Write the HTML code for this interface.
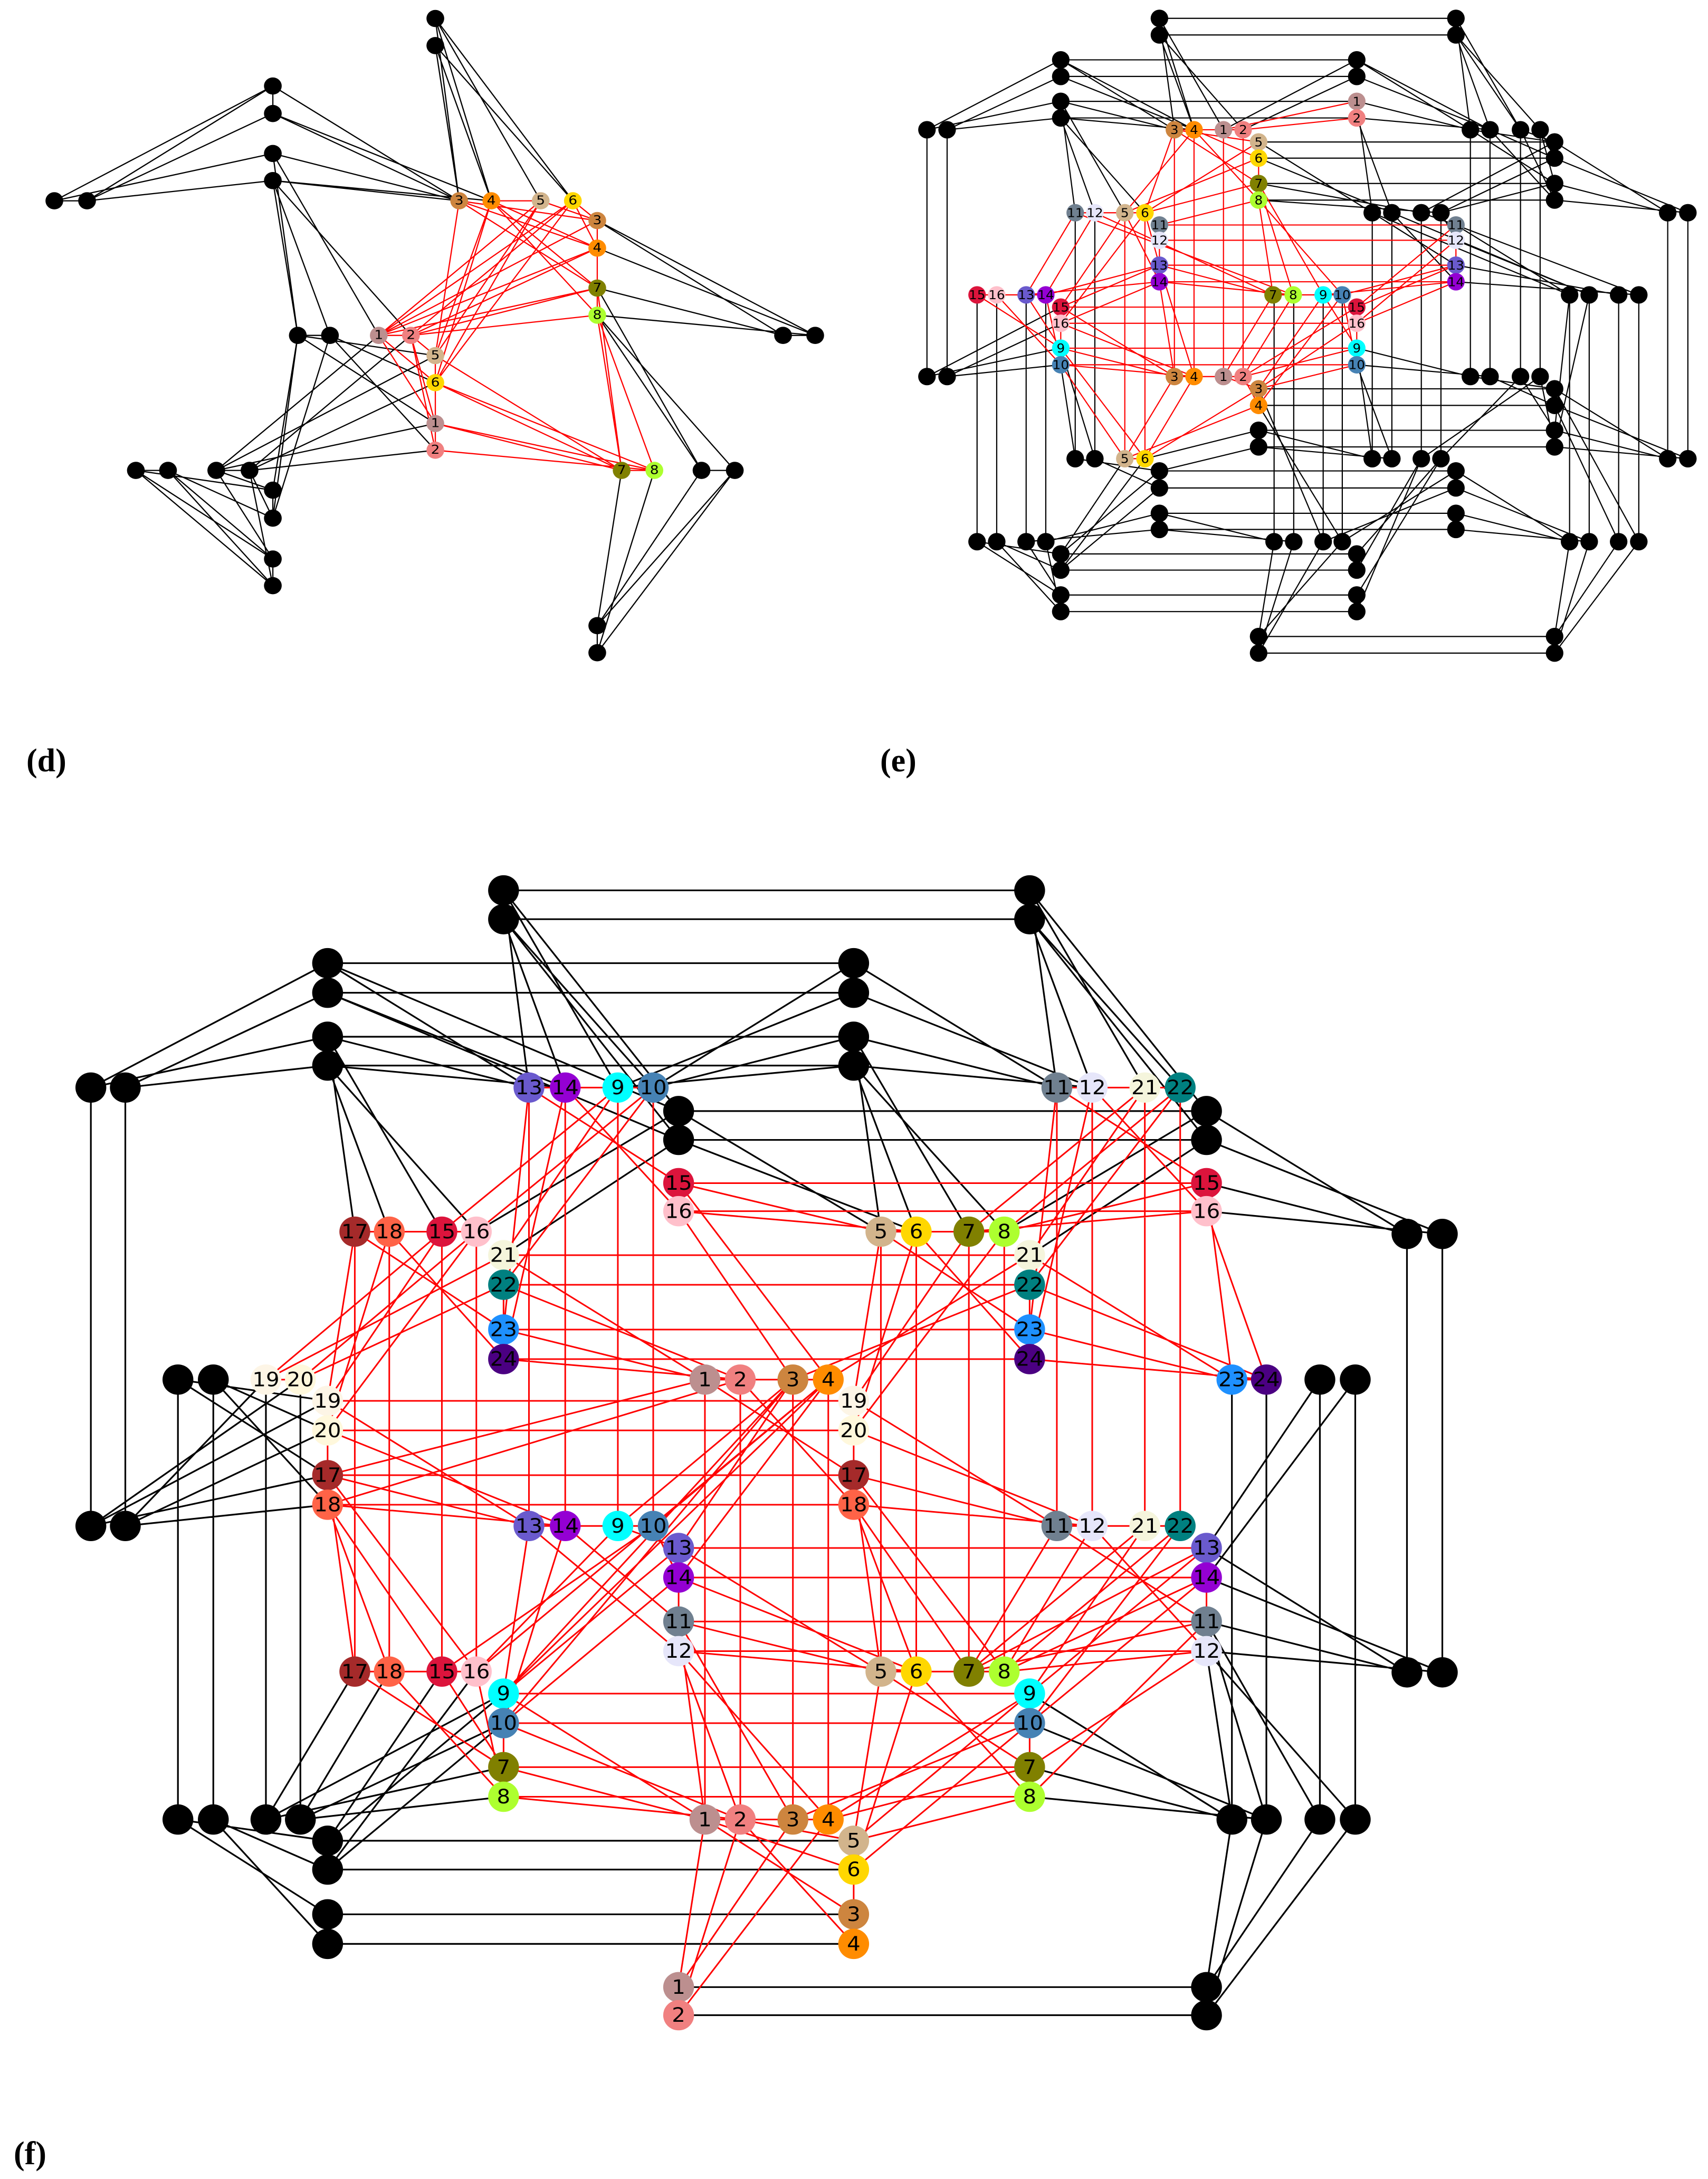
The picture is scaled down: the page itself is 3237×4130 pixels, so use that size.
<!DOCTYPE html>
<html><head><meta charset="utf-8"><style>
html,body{margin:0;padding:0;background:#fff}
svg{display:block}
.k{fill:#000}
.bl{stroke:#000;fill:none;vector-effect:non-scaling-stroke}
.rd{stroke:#f00;fill:none;vector-effect:non-scaling-stroke}
text{font-family:"DejaVu Sans Condensed","DejaVu Sans","Liberation Sans",sans-serif;font-stretch:condensed;text-anchor:middle;dominant-baseline:central;fill:#000}
.c1{fill:#bc8f8f}.c2{fill:#f08080}.c3{fill:#cd853f}.c4{fill:#ff8c00}.c5{fill:#d2b48c}.c6{fill:#ffd700}
.c7{fill:#808000}.c8{fill:#adff2f}.c9{fill:#00ffff}.c10{fill:#4682b4}.c11{fill:#708090}.c12{fill:#e6e6fa}
.c13{fill:#6a5acd}.c14{fill:#9400d3}.c15{fill:#dc143c}.c16{fill:#ffc0cb}.c17{fill:#a52a2a}.c18{fill:#ff6347}
.c19{fill:#fdf5e6}.c20{fill:#fff8dc}.c21{fill:#f5f5dc}.c22{fill:#008080}.c23{fill:#1e90ff}.c24{fill:#4b0082}
.lab{font-family:"Liberation Serif",serif;font-stretch:normal;font-weight:bold;font-size:62px;text-anchor:start;dominant-baseline:auto}
</style></head><body>
<svg width="3237" height="4130" viewBox="0 0 3237 4130" xmlns="http://www.w3.org/2000/svg">
<rect width="3237" height="4130" fill="#fff"/>

<!-- PANEL D -->
<g transform="translate(0,0) scale(1.051,0.815)">
<path class="bl" stroke-width="2.3" d="M492 200V264M98 467H157M1412 780H1470M1265 1094H1325M1077 1455V1518M245 1094H303M390 1094H450M492 1300V1362M492 1140V1205M537 780H595
M785 43L828 467M785 106L886 467M785 43L886 467M785 106L828 467M785 43L975 467M785 106L1033 467M785 43L1033 467
M492 200L98 467M492 264L157 467M492 200L157 467M492 200L828 467M492 264L886 467M492 264L828 467
M492 357L98 467M492 420L157 467M492 357L828 467M492 420L886 467M492 420L828 467M492 357L537 780M492 420L595 780M492 357L683 780M492 420L741 780M492 420L537 780
M537 780L785 827M595 780L785 890M537 780L785 985M595 780L785 1047M537 780L492 1140M595 780L492 1205M537 780L492 1205
M390 1094L683 780M450 1094L741 780M390 1094L785 827M450 1094L785 890M390 1094L785 985M450 1094L785 1047M390 1094L492 1140M450 1094L492 1205
M245 1094L492 1140M303 1094L492 1205M245 1094L492 1362M303 1094L492 1300M245 1094L492 1300M303 1094L492 1362M390 1094L492 1300M450 1094L492 1362
M1077 513L1412 780M1077 577L1470 780M1077 513L1470 780M1077 670L1412 780M1077 733L1470 780M1077 670L1265 1094M1077 733L1325 1094M1077 733L1265 1094
M1077 1455L1121 1094M1077 1518L1180 1094M1077 1455L1265 1094M1077 1518L1325 1094M1077 1455L1325 1094"/>
<path class="rd" stroke-width="2.3" d="M886 467H975M1033 467L1077 513M1077 513V733M741 780L785 827M785 827V1047M1121 1094H1180M683 780H741
M828 467L1077 513M886 467L1077 577M828 467L1077 577M828 467L1077 670M886 467L1077 733M886 467L1077 670M828 467L785 827M886 467L785 890M886 467L785 827
M975 467L1077 513M1033 467L1077 577M975 467L785 827M1033 467L785 890M975 467L785 890M975 467L683 780M1033 467L741 780M1033 467L683 780
M1077 513L683 780M1077 577L741 780M1077 577L683 780M1077 670L683 780M1077 733L741 780M1077 670L741 780M1077 670L1121 1094M1077 733L1180 1094M1077 733L1121 1094
M683 780L785 985M741 780L785 1047M683 780L785 890M741 780L785 985M785 827L1121 1094M785 890L1180 1094M785 890L1121 1094M785 985L1121 1094M785 1047L1180 1094M785 985L1180 1094"/>
<g class="k">
<ellipse cx="785" cy="43" rx="16" ry="20"/><ellipse cx="785" cy="106" rx="16" ry="20"/><ellipse cx="492" cy="200" rx="16" ry="20"/><ellipse cx="492" cy="264" rx="16" ry="20"/><ellipse cx="492" cy="357" rx="16" ry="20"/><ellipse cx="492" cy="420" rx="16" ry="20"/><ellipse cx="98" cy="467" rx="16" ry="20"/><ellipse cx="157" cy="467" rx="16" ry="20"/><ellipse cx="537" cy="780" rx="16" ry="20"/><ellipse cx="595" cy="780" rx="16" ry="20"/><ellipse cx="1412" cy="780" rx="16" ry="20"/><ellipse cx="1470" cy="780" rx="16" ry="20"/><ellipse cx="245" cy="1094" rx="16" ry="20"/><ellipse cx="303" cy="1094" rx="16" ry="20"/><ellipse cx="390" cy="1094" rx="16" ry="20"/><ellipse cx="450" cy="1094" rx="16" ry="20"/><ellipse cx="492" cy="1140" rx="16" ry="20"/><ellipse cx="492" cy="1205" rx="16" ry="20"/><ellipse cx="492" cy="1300" rx="16" ry="20"/><ellipse cx="492" cy="1362" rx="16" ry="20"/><ellipse cx="1265" cy="1094" rx="16" ry="20"/><ellipse cx="1325" cy="1094" rx="16" ry="20"/><ellipse cx="1077" cy="1455" rx="16" ry="20"/><ellipse cx="1077" cy="1518" rx="16" ry="20"/>
</g>
<g font-size="28">
<ellipse class="c3" cx="828" cy="467" rx="16" ry="20"/><text x="828" y="467">3</text>
<ellipse class="c4" cx="886" cy="467" rx="16" ry="20"/><text x="886" y="467">4</text>
<ellipse class="c5" cx="975" cy="467" rx="16" ry="20"/><text x="975" y="467">5</text>
<ellipse class="c6" cx="1033" cy="467" rx="16" ry="20"/><text x="1033" y="467">6</text>
<ellipse class="c3" cx="1077" cy="513" rx="16" ry="20"/><text x="1077" y="513">3</text>
<ellipse class="c4" cx="1077" cy="577" rx="16" ry="20"/><text x="1077" y="577">4</text>
<ellipse class="c7" cx="1077" cy="670" rx="16" ry="20"/><text x="1077" y="670">7</text>
<ellipse class="c8" cx="1077" cy="733" rx="16" ry="20"/><text x="1077" y="733">8</text>
<ellipse class="c1" cx="683" cy="780" rx="16" ry="20"/><text x="683" y="780">1</text>
<ellipse class="c2" cx="741" cy="780" rx="16" ry="20"/><text x="741" y="780">2</text>
<ellipse class="c5" cx="785" cy="827" rx="16" ry="20"/><text x="785" y="827">5</text>
<ellipse class="c6" cx="785" cy="890" rx="16" ry="20"/><text x="785" y="890">6</text>
<ellipse class="c1" cx="785" cy="985" rx="16" ry="20"/><text x="785" y="985">1</text>
<ellipse class="c2" cx="785" cy="1047" rx="16" ry="20"/><text x="785" y="1047">2</text>
<ellipse class="c7" cx="1121" cy="1094" rx="16" ry="20"/><text x="1121" y="1094">7</text>
<ellipse class="c8" cx="1180" cy="1094" rx="16" ry="20"/><text x="1180" y="1094">8</text>
</g>
</g>

<!-- PANEL E -->
<g transform="translate(1700,0) scale(0.979,0.828)">
<path class="bl" stroke-width="2.2" d="M508 42H1082M508 80H1082M317 137H890M317 175H890M317 232H890M317 270H890M700 325H1273M700 362H1273M700 420H1273M700 458H1273M58 297V862M97 297V862M1492 487V1050M1531 487V1050M155 675V1240M193 675V1240M250 675V1240M288 675V1240M345 487V1050M383 487V1050M920 487V1050M958 487V1050M1015 487V1050M1053 487V1050M1110 297V862M1148 297V862M1207 297V862M1245 297V862M1302 675V1240M1340 675V1240M1397 675V1240M1436 675V1240M730 675V1240M768 675V1240M825 675V1240M862 675V1240M700 890H1273M700 928H1273M700 985H1273M700 1023H1273M508 1078H1082M508 1117H1082M508 1175H1082M508 1212H1082M317 1268H890M317 1305H890M317 1362H890M317 1400H890M700 1457H1273M700 1495H1273
M508 42L537 297M508 80L575 297M508 42L632 297M508 80L670 297M508 42L575 297
M1082 42L1110 297M1082 80L1148 297M1082 42L1207 297M1082 80L1245 297M1082 80L1207 297
M317 137L58 297M317 175L97 297M317 137L537 297M317 175L575 297M317 137L575 297
M890 137L632 297M890 175L670 297M890 137L1110 297M890 175L1148 297M890 137L1148 297
M317 232L58 297M317 270L97 297M317 232L345 487M317 270L383 487M317 232L441 487M317 270L480 487M317 232L537 297M317 270L575 297
M890 232L920 487M890 270L958 487M890 232L1110 297M890 270L1148 297
M1110 297L1273 325M1148 297L1273 362M1110 297L1273 420M1148 297L1273 458M1207 297L1273 325M1245 297L1273 362M1207 297L1273 458M1245 297L1273 420
M700 325L920 487M700 362L958 487M700 420L1015 487M700 458L1053 487
M1273 420L1492 487M1273 458L1531 487M1273 325L1492 487M1273 362L1531 487
M1015 487L1082 515M1053 487L1082 550M1015 487L1273 325M1053 487L1273 362M1053 487L1273 420
M920 487L1082 607M958 487L1082 645M920 487L1302 675M958 487L1340 675M1082 515L1302 675M1082 550L1340 675M1082 607L1397 675M1082 645L1436 675M1082 515L1436 675
M58 862L317 703M97 862L317 740M58 862L317 797M97 862L317 835
M1492 1050L1273 890M1531 1050L1273 928M1492 1050L1273 985M1531 1050L1273 1023
M1110 862L890 797M1148 862L890 835M1110 862L1273 890M1148 862L1273 928M1207 862L1273 985M1245 862L1273 1023M1207 862L1053 1050M1245 862L1015 1050
M345 1050L508 1078M383 1050L508 1117M345 1050L317 835M383 1050L317 797
M700 985L920 1050M700 1023L958 1050M700 985L480 1050M700 1023L508 1078M700 928L862 1240M700 890L825 1240
M508 1175L288 1240M508 1212L250 1240M508 1175L730 1240M508 1212L768 1240
M1082 1078L862 1240M1082 1117L825 1240M1082 1078L1302 1240M1082 1117L1340 1240M1082 1175L1302 1240M1082 1212L1340 1240
M155 1240L317 1362M193 1240L317 1400M155 1240L317 1268M193 1240L317 1305M250 1240L317 1362M288 1240L317 1400
M1302 1240L1273 1457M1340 1240L1273 1495M1397 1240L1273 1457M1436 1240L1273 1495
M700 1457L862 1240M700 1495L825 1240M700 1457L730 1240M700 1495L768 1240
M890 1268L1053 1050M890 1305L1015 1050M890 1362L1053 1050M890 1400L1015 1050
M317 1268L441 1050M317 1305L480 1050M317 1268L508 1078M317 1305L508 1117
M890 797L920 1050M890 835L958 1050M1273 890L1436 1240M1273 928L1397 1240M1273 985L1302 675M1273 1023L1340 675"/>
<path class="rd" stroke-width="2.2" d="M508 515H1082M508 550H1082M508 607H1082M508 645H1082M317 703H890M317 740H890M317 797H890M317 835H890M537 297V862M575 297V862M632 297V862M670 297V862M441 487V1050M480 487V1050
M537 297H670M700 325V458M345 487H480M508 515V645M1082 515V645M155 675H288M317 703V835M890 703V835M728 675H862M890 232V270M537 862H670M700 890V928M441 1050H480
M537 297L700 325M575 297L700 362M537 297L700 420M575 297L700 458M632 297L890 232M670 297L890 270M575 297L441 487M537 297L480 487
M700 325L480 487M700 362L441 487M700 420L480 487M700 458L508 515M700 458L862 675M700 420L825 675M700 420L767 675M700 458L728 675
M441 487L317 703M480 487L317 740M383 487L288 675M345 487L250 675M480 487L508 607M441 487L508 645M383 487L728 675M345 487L767 675
M508 607L317 703M508 645L317 740M508 607L728 675M508 645L767 675M508 645L537 862M508 607L575 862
M1082 515L890 703M1082 550L890 740M1082 607L862 675M1082 645L825 675M1082 607L890 703M1082 645L890 740
M155 675L317 797M193 675L317 835M250 675L317 797M288 675L317 835M288 675L508 607M250 675L508 645
M317 703L537 862M317 740L575 862M317 797L537 862M317 835L575 862M317 835L441 1050M317 797L480 1050
M728 675L632 862M767 675L670 862M825 675L890 797M862 675L890 835M825 675L700 890M862 675L700 928
M890 703L670 862M890 740L700 890M890 797L670 862M890 835L700 890M632 862L700 890M670 862L700 928
M700 890L480 1050M700 928L441 1050M575 862L480 1050M537 862L441 1050"/>
<g class="k">
<ellipse cx="508" cy="42" rx="17" ry="20"/><ellipse cx="508" cy="80" rx="17" ry="20"/><ellipse cx="1082" cy="42" rx="17" ry="20"/><ellipse cx="1082" cy="80" rx="17" ry="20"/>
<ellipse cx="317" cy="137" rx="17" ry="20"/><ellipse cx="317" cy="175" rx="17" ry="20"/><ellipse cx="890" cy="137" rx="17" ry="20"/><ellipse cx="890" cy="175" rx="17" ry="20"/>
<ellipse cx="317" cy="232" rx="17" ry="20"/><ellipse cx="317" cy="270" rx="17" ry="20"/>
<ellipse cx="58" cy="297" rx="17" ry="20"/><ellipse cx="97" cy="297" rx="17" ry="20"/><ellipse cx="58" cy="862" rx="17" ry="20"/><ellipse cx="97" cy="862" rx="17" ry="20"/>
<ellipse cx="1110" cy="297" rx="17" ry="20"/><ellipse cx="1148" cy="297" rx="17" ry="20"/><ellipse cx="1207" cy="297" rx="17" ry="20"/><ellipse cx="1245" cy="297" rx="17" ry="20"/>
<ellipse cx="1273" cy="325" rx="17" ry="20"/><ellipse cx="1273" cy="362" rx="17" ry="20"/><ellipse cx="1273" cy="420" rx="17" ry="20"/><ellipse cx="1273" cy="458" rx="17" ry="20"/>
<ellipse cx="920" cy="487" rx="17" ry="20"/><ellipse cx="958" cy="487" rx="17" ry="20"/><ellipse cx="1015" cy="487" rx="17" ry="20"/><ellipse cx="1053" cy="487" rx="17" ry="20"/>
<ellipse cx="1492" cy="487" rx="17" ry="20"/><ellipse cx="1531" cy="487" rx="17" ry="20"/><ellipse cx="1492" cy="1050" rx="17" ry="20"/><ellipse cx="1531" cy="1050" rx="17" ry="20"/>
<ellipse cx="1302" cy="675" rx="17" ry="20"/><ellipse cx="1340" cy="675" rx="17" ry="20"/><ellipse cx="1397" cy="675" rx="17" ry="20"/><ellipse cx="1436" cy="675" rx="17" ry="20"/>
<ellipse cx="1110" cy="862" rx="17" ry="20"/><ellipse cx="1148" cy="862" rx="17" ry="20"/><ellipse cx="1207" cy="862" rx="17" ry="20"/><ellipse cx="1245" cy="862" rx="17" ry="20"/>
<ellipse cx="1273" cy="890" rx="17" ry="20"/><ellipse cx="1273" cy="928" rx="17" ry="20"/><ellipse cx="1273" cy="985" rx="17" ry="20"/><ellipse cx="1273" cy="1023" rx="17" ry="20"/>
<ellipse cx="700" cy="985" rx="17" ry="20"/><ellipse cx="700" cy="1023" rx="17" ry="20"/>
<ellipse cx="345" cy="1050" rx="17" ry="20"/><ellipse cx="383" cy="1050" rx="17" ry="20"/>
<ellipse cx="920" cy="1050" rx="17" ry="20"/><ellipse cx="958" cy="1050" rx="17" ry="20"/><ellipse cx="1015" cy="1050" rx="17" ry="20"/><ellipse cx="1053" cy="1050" rx="17" ry="20"/>
<ellipse cx="508" cy="1078" rx="17" ry="20"/><ellipse cx="508" cy="1117" rx="17" ry="20"/><ellipse cx="508" cy="1175" rx="17" ry="20"/><ellipse cx="508" cy="1212" rx="17" ry="20"/>
<ellipse cx="1082" cy="1078" rx="17" ry="20"/><ellipse cx="1082" cy="1117" rx="17" ry="20"/><ellipse cx="1082" cy="1175" rx="17" ry="20"/><ellipse cx="1082" cy="1212" rx="17" ry="20"/>
<ellipse cx="155" cy="1240" rx="17" ry="20"/><ellipse cx="193" cy="1240" rx="17" ry="20"/><ellipse cx="250" cy="1240" rx="17" ry="20"/><ellipse cx="288" cy="1240" rx="17" ry="20"/>
<ellipse cx="730" cy="1240" rx="17" ry="20"/><ellipse cx="768" cy="1240" rx="17" ry="20"/><ellipse cx="825" cy="1240" rx="17" ry="20"/><ellipse cx="862" cy="1240" rx="17" ry="20"/>
<ellipse cx="1302" cy="1240" rx="17" ry="20"/><ellipse cx="1340" cy="1240" rx="17" ry="20"/><ellipse cx="1397" cy="1240" rx="17" ry="20"/><ellipse cx="1436" cy="1240" rx="17" ry="20"/>
<ellipse cx="317" cy="1268" rx="17" ry="20"/><ellipse cx="317" cy="1305" rx="17" ry="20"/><ellipse cx="317" cy="1362" rx="17" ry="20"/><ellipse cx="317" cy="1400" rx="17" ry="20"/>
<ellipse cx="890" cy="1268" rx="17" ry="20"/><ellipse cx="890" cy="1305" rx="17" ry="20"/><ellipse cx="890" cy="1362" rx="17" ry="20"/><ellipse cx="890" cy="1400" rx="17" ry="20"/>
<ellipse cx="700" cy="1457" rx="17" ry="20"/><ellipse cx="700" cy="1495" rx="17" ry="20"/><ellipse cx="1273" cy="1457" rx="17" ry="20"/><ellipse cx="1273" cy="1495" rx="17" ry="20"/>
</g>
<g font-size="28">
<ellipse class="c3" cx="537" cy="297" rx="17" ry="20"/><text x="537" y="297">3</text>
<ellipse class="c4" cx="575" cy="297" rx="17" ry="20"/><text x="575" y="297">4</text>
<ellipse class="c1" cx="632" cy="297" rx="17" ry="20"/><text x="632" y="297">1</text>
<ellipse class="c2" cx="670" cy="297" rx="17" ry="20"/><text x="670" y="297">2</text>
<ellipse class="c1" cx="890" cy="232" rx="17" ry="20"/><text x="890" y="232">1</text>
<ellipse class="c2" cx="890" cy="270" rx="17" ry="20"/><text x="890" y="270">2</text>
<ellipse class="c5" cx="700" cy="325" rx="17" ry="20"/><text x="700" y="325">5</text>
<ellipse class="c6" cx="700" cy="362" rx="17" ry="20"/><text x="700" y="362">6</text>
<ellipse class="c7" cx="700" cy="420" rx="17" ry="20"/><text x="700" y="420">7</text>
<ellipse class="c8" cx="700" cy="458" rx="17" ry="20"/><text x="700" y="458">8</text>
<ellipse class="c11" cx="345" cy="487" rx="17" ry="20"/><text x="345" y="487">11</text>
<ellipse class="c12" cx="383" cy="487" rx="17" ry="20"/><text x="383" y="487">12</text>
<ellipse class="c5" cx="441" cy="487" rx="17" ry="20"/><text x="441" y="487">5</text>
<ellipse class="c6" cx="480" cy="487" rx="17" ry="20"/><text x="480" y="487">6</text>
<ellipse class="c11" cx="508" cy="515" rx="17" ry="20"/><text x="508" y="515">11</text>
<ellipse class="c12" cx="508" cy="550" rx="17" ry="20"/><text x="508" y="550">12</text>
<ellipse class="c13" cx="508" cy="607" rx="17" ry="20"/><text x="508" y="607">13</text>
<ellipse class="c14" cx="508" cy="645" rx="17" ry="20"/><text x="508" y="645">14</text>
<ellipse class="c11" cx="1082" cy="515" rx="17" ry="20"/><text x="1082" y="515">11</text>
<ellipse class="c12" cx="1082" cy="550" rx="17" ry="20"/><text x="1082" y="550">12</text>
<ellipse class="c13" cx="1082" cy="607" rx="17" ry="20"/><text x="1082" y="607">13</text>
<ellipse class="c14" cx="1082" cy="645" rx="17" ry="20"/><text x="1082" y="645">14</text>
<ellipse class="c15" cx="155" cy="675" rx="17" ry="20"/><text x="155" y="675">15</text>
<ellipse class="c16" cx="193" cy="675" rx="17" ry="20"/><text x="193" y="675">16</text>
<ellipse class="c13" cx="250" cy="675" rx="17" ry="20"/><text x="250" y="675">13</text>
<ellipse class="c14" cx="288" cy="675" rx="17" ry="20"/><text x="288" y="675">14</text>
<ellipse class="c15" cx="317" cy="703" rx="17" ry="20"/><text x="317" y="703">15</text>
<ellipse class="c16" cx="317" cy="740" rx="17" ry="20"/><text x="317" y="740">16</text>
<ellipse class="c7" cx="728" cy="675" rx="17" ry="20"/><text x="728" y="675">7</text>
<ellipse class="c8" cx="767" cy="675" rx="17" ry="20"/><text x="767" y="675">8</text>
<ellipse class="c9" cx="825" cy="675" rx="17" ry="20"/><text x="825" y="675">9</text>
<ellipse class="c10" cx="862" cy="675" rx="17" ry="20"/><text x="862" y="675">10</text>
<ellipse class="c15" cx="890" cy="703" rx="17" ry="20"/><text x="890" y="703">15</text>
<ellipse class="c16" cx="890" cy="740" rx="17" ry="20"/><text x="890" y="740">16</text>
<ellipse class="c9" cx="317" cy="797" rx="17" ry="20"/><text x="317" y="797">9</text>
<ellipse class="c10" cx="317" cy="835" rx="17" ry="20"/><text x="317" y="835">10</text>
<ellipse class="c9" cx="890" cy="797" rx="17" ry="20"/><text x="890" y="797">9</text>
<ellipse class="c10" cx="890" cy="835" rx="17" ry="20"/><text x="890" y="835">10</text>
<ellipse class="c3" cx="537" cy="862" rx="17" ry="20"/><text x="537" y="862">3</text>
<ellipse class="c4" cx="575" cy="862" rx="17" ry="20"/><text x="575" y="862">4</text>
<ellipse class="c1" cx="632" cy="862" rx="17" ry="20"/><text x="632" y="862">1</text>
<ellipse class="c2" cx="670" cy="862" rx="17" ry="20"/><text x="670" y="862">2</text>
<ellipse class="c3" cx="700" cy="890" rx="17" ry="20"/><text x="700" y="890">3</text>
<ellipse class="c4" cx="700" cy="928" rx="17" ry="20"/><text x="700" y="928">4</text>
<ellipse class="c5" cx="441" cy="1050" rx="17" ry="20"/><text x="441" y="1050">5</text>
<ellipse class="c6" cx="480" cy="1050" rx="17" ry="20"/><text x="480" y="1050">6</text>
</g>
</g>

<!-- PANEL F -->
<g transform="translate(100,1620) scale(1.719,1.4376)">
<path class="bl" stroke-width="3.2" d="M497 47H1077M497 85H1077M303 143H883M303 182H883M303 240H883M303 278H883M690 338H1272M690 376H1272M42 307V885M80 307V885M1493 500V1078M1532 500V1078M138 692V1272M177 692V1272M235 692V1272M273 692V1272M1300 692V1272M1338 692V1272M1397 692V1272M1436 692V1272M303 1300H883M303 1338H883M303 1397H883M303 1436H883M690 1493H1272M690 1530H1272
M497 47L525 307M497 85L565 307M497 47L623 307M497 85L662 307M497 47L690 338M497 85L690 376
M1077 47L1107 307M1077 85L1146 307M1077 47L1204 307M1077 85L1243 307M1077 47L1272 338M1077 85L1272 376
M303 143L42 307M303 182L80 307M303 143L525 307M303 182L565 307M303 143L690 338M303 182L690 376
M883 143L662 307M883 182L623 307M883 143L1107 307M883 182L1146 307
M303 240L42 307M303 278L80 307M303 240L333 497M303 278L371 497M303 240L429 497M303 278L467 497M303 240L525 307M303 278L565 307
M883 240L913 497M883 278L952 497M883 240L1010 497M883 278L1049 497M883 240L662 307M883 278L623 307M883 240L1107 307M883 278L1146 307
M690 338L467 497M690 376L497 528M690 338L913 497M690 376L952 497
M1272 338L1049 497M1272 376L1077 528M1272 338L1493 500M1272 376L1532 500M1272 433L1493 500M1272 470L1532 500
M42 885L303 720M80 885L303 759M42 885L303 818M80 885L303 857M42 885L273 692M80 885L235 692
M138 692L303 818M177 692L303 857M138 692L303 720M177 692L303 759
M1493 1078L1272 914M1532 1078L1272 953M1493 1078L1272 1011M1532 1078L1272 1050M1397 692L1272 914M1436 692L1272 953
M138 1272L303 1300M177 1272L303 1338M138 1272L303 1397M177 1272L303 1436
M235 1272L497 1203M273 1272L497 1242M235 1272L497 1106M273 1272L497 1145M235 1272L333 1077M273 1272L371 1077
M303 1300L429 1077M303 1338L467 1077M303 1300L497 1106M303 1338L497 1145
M1300 1272L1077 1203M1338 1272L1077 1242M1300 1272L1077 1106M1338 1272L1077 1145M1300 1272L1272 1050M1338 1272L1272 1011M1300 1272L1272 1493M1338 1272L1272 1530
M1397 1272L1272 1011M1436 1272L1272 1050M1397 1272L1272 1493M1436 1272L1272 1530"/>
<path class="rd" stroke-width="3" d="M525 307V885M565 307V885M623 307V885M662 307V885M1107 307V885M1146 307V885M1204 307V885M1243 307V885M333 497V1077M371 497V1077M429 497V1077M467 497V1077M913 497V1077M952 497V1077M1010 497V1077M1049 497V1077M719 692V1272M758 692V1272M816 692V1272M855 692V1272
M690 433H1272M690 470H1272M497 528H1077M497 567H1077M497 626H1077M497 665H1077M303 720H883M303 759H883M303 818H883M303 857H883M690 914H1272M690 953H1272M690 1011H1272M690 1050H1272M497 1106H1077M497 1145H1077M497 1203H1077M497 1242H1077
M525 307H662M1107 307H1243M333 497H467M913 497H1049M719 692H855M235 692H273M1300 692H1338M525 885H662M1107 885H1243M333 1077H467M913 1077H1049M719 1272H855
M690 433V470M1272 433V470M497 528V665M1077 528V665M303 720V857M883 720V857M690 914V1050M1272 914V1050M497 1106V1242M1077 1106V1242M883 1300V1436M690 1493V1530
M525 307L690 433M565 307L690 470M623 307L497 528M662 307L497 567M623 307L429 497M662 307L467 497M525 307L497 626M565 307L497 665
M1107 307L1272 433M1146 307L1272 470M1204 307L1077 528M1243 307L1077 567M1204 307L1010 497M1243 307L1049 497M1107 307L1077 626M1146 307L1077 665
M690 433L913 497M690 470L952 497M690 470L816 692M690 433L855 692M1272 433L1300 692M1272 470L1338 692M1272 470L1010 497M1272 433L1049 497
M333 497L303 720M371 497L303 759M429 497L303 720M467 497L303 759M333 497L497 626M371 497L497 665M429 497L235 692M467 497L273 692
M497 528L235 692M497 567L273 692M497 626L719 692M497 665L758 692M497 528L719 692M497 567L758 692
M913 497L883 720M952 497L883 759M1010 497L883 720M1049 497L883 759M913 497L1077 626M952 497L1077 665
M1077 528L855 692M1077 567L816 692M1077 626L1300 692M1077 665L1338 692M1077 528L1300 692M1077 567L1338 692
M719 692L883 818M758 692L883 857M816 692L690 914M855 692L690 953M816 692L623 885M855 692L662 885
M303 720L525 885M303 759L565 885M303 818L525 885M303 857L565 885M303 818L333 1077M303 857L371 1077M303 857L429 1077M303 818L467 1077
M883 720L1107 885M883 759L1146 885M883 818L1107 885M883 857L1146 885M883 818L913 1077M883 857L952 1077M883 857L1010 1077M883 818L1049 1077
M525 885L497 1106M565 885L497 1145M565 885L690 1011M525 885L690 1050M623 885L690 914M662 885L690 953M623 885L467 1077M662 885L429 1077
M690 914L497 1106M690 953L497 1145M690 914L913 1077M690 953L952 1077M690 1011L913 1077M690 1050L952 1077M690 1011L719 1272M690 1050L758 1272M690 1050L855 1272M690 1011L816 1272
M1107 885L1272 1011M1146 885L1272 1050M1204 885L1077 1106M1243 885L1077 1145M1204 885L1010 1077M1243 885L1049 1077
M1272 914L1077 1106M1272 953L1077 1145M1272 914L1010 1077M1272 953L1049 1077M1272 1011L1010 1077M1272 1050L1049 1077M1272 1050L1077 1203M1272 1011L1077 1242
M333 1077L497 1203M371 1077L497 1242M429 1077L497 1203M467 1077L497 1242M497 1106L719 1272M497 1145L758 1272M497 1203L719 1272M497 1242L758 1272
M497 1106L855 692M497 1145L816 692M467 1077L855 692M497 1106L816 692
M913 1077L883 1300M952 1077L883 1338M913 1077L1077 1203M952 1077L1077 1242
M1077 1106L855 1272M1077 1145L816 1272M1077 1203L855 1272M1077 1242L883 1300M1077 1106L883 1300M1077 1145L883 1338
M719 1272L883 1397M758 1272L883 1436M816 1272L690 1493M855 1272L690 1530M690 1493L719 1272M690 1530L758 1272M758 1272L883 1300M719 1272L883 1338
M303 818L719 692M303 857L758 692M1049 1077L1146 885M1010 1077L1107 885"/>
<g class="k">
<ellipse cx="497" cy="47" rx="17" ry="20"/><ellipse cx="497" cy="85" rx="17" ry="20"/><ellipse cx="1077" cy="47" rx="17" ry="20"/><ellipse cx="1077" cy="85" rx="17" ry="20"/>
<ellipse cx="303" cy="143" rx="17" ry="20"/><ellipse cx="303" cy="182" rx="17" ry="20"/><ellipse cx="883" cy="143" rx="17" ry="20"/><ellipse cx="883" cy="182" rx="17" ry="20"/>
<ellipse cx="303" cy="240" rx="17" ry="20"/><ellipse cx="303" cy="278" rx="17" ry="20"/><ellipse cx="883" cy="240" rx="17" ry="20"/><ellipse cx="883" cy="278" rx="17" ry="20"/>
<ellipse cx="42" cy="307" rx="17" ry="20"/><ellipse cx="80" cy="307" rx="17" ry="20"/><ellipse cx="42" cy="885" rx="17" ry="20"/><ellipse cx="80" cy="885" rx="17" ry="20"/>
<ellipse cx="690" cy="338" rx="17" ry="20"/><ellipse cx="690" cy="376" rx="17" ry="20"/><ellipse cx="1272" cy="338" rx="17" ry="20"/><ellipse cx="1272" cy="376" rx="17" ry="20"/>
<ellipse cx="1493" cy="500" rx="17" ry="20"/><ellipse cx="1532" cy="500" rx="17" ry="20"/><ellipse cx="1493" cy="1078" rx="17" ry="20"/><ellipse cx="1532" cy="1078" rx="17" ry="20"/>
<ellipse cx="138" cy="692" rx="17" ry="20"/><ellipse cx="177" cy="692" rx="17" ry="20"/><ellipse cx="1397" cy="692" rx="17" ry="20"/><ellipse cx="1436" cy="692" rx="17" ry="20"/>
<ellipse cx="138" cy="1272" rx="17" ry="20"/><ellipse cx="177" cy="1272" rx="17" ry="20"/><ellipse cx="235" cy="1272" rx="17" ry="20"/><ellipse cx="273" cy="1272" rx="17" ry="20"/>
<ellipse cx="1300" cy="1272" rx="17" ry="20"/><ellipse cx="1338" cy="1272" rx="17" ry="20"/><ellipse cx="1397" cy="1272" rx="17" ry="20"/><ellipse cx="1436" cy="1272" rx="17" ry="20"/>
<ellipse cx="303" cy="1300" rx="17" ry="20"/><ellipse cx="303" cy="1338" rx="17" ry="20"/><ellipse cx="303" cy="1397" rx="17" ry="20"/><ellipse cx="303" cy="1436" rx="17" ry="20"/>
<ellipse cx="1272" cy="1493" rx="17" ry="20"/><ellipse cx="1272" cy="1530" rx="17" ry="20"/>
</g>
<g font-size="26">
<ellipse class="c13" cx="525" cy="307" rx="17" ry="20"/><text x="525" y="307">13</text>
<ellipse class="c14" cx="565" cy="307" rx="17" ry="20"/><text x="565" y="307">14</text>
<ellipse class="c9" cx="623" cy="307" rx="17" ry="20"/><text x="623" y="307">9</text>
<ellipse class="c10" cx="662" cy="307" rx="17" ry="20"/><text x="662" y="307">10</text>
<ellipse class="c11" cx="1107" cy="307" rx="17" ry="20"/><text x="1107" y="307">11</text>
<ellipse class="c12" cx="1146" cy="307" rx="17" ry="20"/><text x="1146" y="307">12</text>
<ellipse class="c21" cx="1204" cy="307" rx="17" ry="20"/><text x="1204" y="307">21</text>
<ellipse class="c22" cx="1243" cy="307" rx="17" ry="20"/><text x="1243" y="307">22</text>
<ellipse class="c15" cx="690" cy="433" rx="17" ry="20"/><text x="690" y="433">15</text>
<ellipse class="c16" cx="690" cy="470" rx="17" ry="20"/><text x="690" y="470">16</text>
<ellipse class="c15" cx="1272" cy="433" rx="17" ry="20"/><text x="1272" y="433">15</text>
<ellipse class="c16" cx="1272" cy="470" rx="17" ry="20"/><text x="1272" y="470">16</text>
<ellipse class="c17" cx="333" cy="497" rx="17" ry="20"/><text x="333" y="497">17</text>
<ellipse class="c18" cx="371" cy="497" rx="17" ry="20"/><text x="371" y="497">18</text>
<ellipse class="c15" cx="429" cy="497" rx="17" ry="20"/><text x="429" y="497">15</text>
<ellipse class="c16" cx="467" cy="497" rx="17" ry="20"/><text x="467" y="497">16</text>
<ellipse class="c5" cx="913" cy="497" rx="17" ry="20"/><text x="913" y="497">5</text>
<ellipse class="c6" cx="952" cy="497" rx="17" ry="20"/><text x="952" y="497">6</text>
<ellipse class="c7" cx="1010" cy="497" rx="17" ry="20"/><text x="1010" y="497">7</text>
<ellipse class="c8" cx="1049" cy="497" rx="17" ry="20"/><text x="1049" y="497">8</text>
<ellipse class="c21" cx="497" cy="528" rx="17" ry="20"/><text x="497" y="528">21</text>
<ellipse class="c22" cx="497" cy="567" rx="17" ry="20"/><text x="497" y="567">22</text>
<ellipse class="c23" cx="497" cy="626" rx="17" ry="20"/><text x="497" y="626">23</text>
<ellipse class="c24" cx="497" cy="665" rx="17" ry="20"/><text x="497" y="665">24</text>
<ellipse class="c21" cx="1077" cy="528" rx="17" ry="20"/><text x="1077" y="528">21</text>
<ellipse class="c22" cx="1077" cy="567" rx="17" ry="20"/><text x="1077" y="567">22</text>
<ellipse class="c23" cx="1077" cy="626" rx="17" ry="20"/><text x="1077" y="626">23</text>
<ellipse class="c24" cx="1077" cy="665" rx="17" ry="20"/><text x="1077" y="665">24</text>
<ellipse class="c19" cx="235" cy="692" rx="17" ry="20"/><text x="235" y="692">19</text>
<ellipse class="c20" cx="273" cy="692" rx="17" ry="20"/><text x="273" y="692">20</text>
<ellipse class="c1" cx="719" cy="692" rx="17" ry="20"/><text x="719" y="692">1</text>
<ellipse class="c2" cx="758" cy="692" rx="17" ry="20"/><text x="758" y="692">2</text>
<ellipse class="c3" cx="816" cy="692" rx="17" ry="20"/><text x="816" y="692">3</text>
<ellipse class="c4" cx="855" cy="692" rx="17" ry="20"/><text x="855" y="692">4</text>
<ellipse class="c23" cx="1300" cy="692" rx="17" ry="20"/><text x="1300" y="692">23</text>
<ellipse class="c24" cx="1338" cy="692" rx="17" ry="20"/><text x="1338" y="692">24</text>
<ellipse class="c19" cx="303" cy="720" rx="17" ry="20"/><text x="303" y="720">19</text>
<ellipse class="c20" cx="303" cy="759" rx="17" ry="20"/><text x="303" y="759">20</text>
<ellipse class="c19" cx="883" cy="720" rx="17" ry="20"/><text x="883" y="720">19</text>
<ellipse class="c20" cx="883" cy="759" rx="17" ry="20"/><text x="883" y="759">20</text>
<ellipse class="c17" cx="303" cy="818" rx="17" ry="20"/><text x="303" y="818">17</text>
<ellipse class="c18" cx="303" cy="857" rx="17" ry="20"/><text x="303" y="857">18</text>
<ellipse class="c17" cx="883" cy="818" rx="17" ry="20"/><text x="883" y="818">17</text>
<ellipse class="c18" cx="883" cy="857" rx="17" ry="20"/><text x="883" y="857">18</text>
<ellipse class="c13" cx="525" cy="885" rx="17" ry="20"/><text x="525" y="885">13</text>
<ellipse class="c14" cx="565" cy="885" rx="17" ry="20"/><text x="565" y="885">14</text>
<ellipse class="c9" cx="623" cy="885" rx="17" ry="20"/><text x="623" y="885">9</text>
<ellipse class="c10" cx="662" cy="885" rx="17" ry="20"/><text x="662" y="885">10</text>
<ellipse class="c11" cx="1107" cy="885" rx="17" ry="20"/><text x="1107" y="885">11</text>
<ellipse class="c12" cx="1146" cy="885" rx="17" ry="20"/><text x="1146" y="885">12</text>
<ellipse class="c21" cx="1204" cy="885" rx="17" ry="20"/><text x="1204" y="885">21</text>
<ellipse class="c22" cx="1243" cy="885" rx="17" ry="20"/><text x="1243" y="885">22</text>
<ellipse class="c13" cx="690" cy="914" rx="17" ry="20"/><text x="690" y="914">13</text>
<ellipse class="c14" cx="690" cy="953" rx="17" ry="20"/><text x="690" y="953">14</text>
<ellipse class="c13" cx="1272" cy="914" rx="17" ry="20"/><text x="1272" y="914">13</text>
<ellipse class="c14" cx="1272" cy="953" rx="17" ry="20"/><text x="1272" y="953">14</text>
<ellipse class="c11" cx="690" cy="1011" rx="17" ry="20"/><text x="690" y="1011">11</text>
<ellipse class="c12" cx="690" cy="1050" rx="17" ry="20"/><text x="690" y="1050">12</text>
<ellipse class="c11" cx="1272" cy="1011" rx="17" ry="20"/><text x="1272" y="1011">11</text>
<ellipse class="c12" cx="1272" cy="1050" rx="17" ry="20"/><text x="1272" y="1050">12</text>
<ellipse class="c17" cx="333" cy="1077" rx="17" ry="20"/><text x="333" y="1077">17</text>
<ellipse class="c18" cx="371" cy="1077" rx="17" ry="20"/><text x="371" y="1077">18</text>
<ellipse class="c15" cx="429" cy="1077" rx="17" ry="20"/><text x="429" y="1077">15</text>
<ellipse class="c16" cx="467" cy="1077" rx="17" ry="20"/><text x="467" y="1077">16</text>
<ellipse class="c5" cx="913" cy="1077" rx="17" ry="20"/><text x="913" y="1077">5</text>
<ellipse class="c6" cx="952" cy="1077" rx="17" ry="20"/><text x="952" y="1077">6</text>
<ellipse class="c7" cx="1010" cy="1077" rx="17" ry="20"/><text x="1010" y="1077">7</text>
<ellipse class="c8" cx="1049" cy="1077" rx="17" ry="20"/><text x="1049" y="1077">8</text>
<ellipse class="c9" cx="497" cy="1106" rx="17" ry="20"/><text x="497" y="1106">9</text>
<ellipse class="c10" cx="497" cy="1145" rx="17" ry="20"/><text x="497" y="1145">10</text>
<ellipse class="c9" cx="1077" cy="1106" rx="17" ry="20"/><text x="1077" y="1106">9</text>
<ellipse class="c10" cx="1077" cy="1145" rx="17" ry="20"/><text x="1077" y="1145">10</text>
<ellipse class="c7" cx="497" cy="1203" rx="17" ry="20"/><text x="497" y="1203">7</text>
<ellipse class="c8" cx="497" cy="1242" rx="17" ry="20"/><text x="497" y="1242">8</text>
<ellipse class="c7" cx="1077" cy="1203" rx="17" ry="20"/><text x="1077" y="1203">7</text>
<ellipse class="c8" cx="1077" cy="1242" rx="17" ry="20"/><text x="1077" y="1242">8</text>
<ellipse class="c1" cx="719" cy="1272" rx="17" ry="20"/><text x="719" y="1272">1</text>
<ellipse class="c2" cx="758" cy="1272" rx="17" ry="20"/><text x="758" y="1272">2</text>
<ellipse class="c3" cx="816" cy="1272" rx="17" ry="20"/><text x="816" y="1272">3</text>
<ellipse class="c4" cx="855" cy="1272" rx="17" ry="20"/><text x="855" y="1272">4</text>
<ellipse class="c5" cx="883" cy="1300" rx="17" ry="20"/><text x="883" y="1300">5</text>
<ellipse class="c6" cx="883" cy="1338" rx="17" ry="20"/><text x="883" y="1338">6</text>
<ellipse class="c3" cx="883" cy="1397" rx="17" ry="20"/><text x="883" y="1397">3</text>
<ellipse class="c4" cx="883" cy="1436" rx="17" ry="20"/><text x="883" y="1436">4</text>
<ellipse class="c1" cx="690" cy="1493" rx="17" ry="20"/><text x="690" y="1493">1</text>
<ellipse class="c2" cx="690" cy="1530" rx="17" ry="20"/><text x="690" y="1530">2</text>
</g>
</g>

<text class="lab" x="50" y="1462">(d)</text>
<text class="lab" x="1668" y="1462">(e)</text>
<text class="lab" x="26" y="4102">(f)</text>
</svg>
</body></html>
